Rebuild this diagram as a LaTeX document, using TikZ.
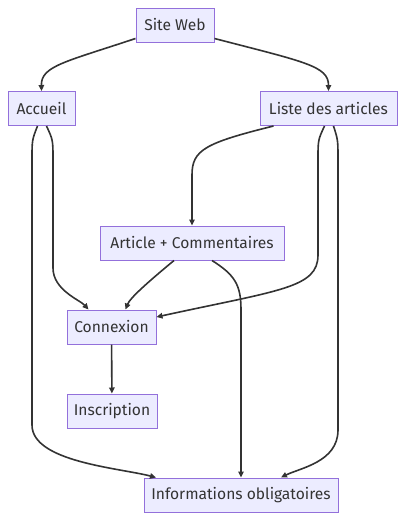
\documentclass[tikz,border=0pt]{standalone}
\usepackage{fontspec}
\setmainfont{Fira Sans}
\usetikzlibrary{arrows.meta}
\definecolor{mmfill}{HTML}{ECECFF}
\definecolor{mmborder}{HTML}{9370DB}
\definecolor{mmline}{HTML}{333333}
\begin{document}
\begin{tikzpicture}[x=1pt, y=-1pt,
  box/.style={draw=mmborder, fill=mmfill, line width=1pt, minimum height=34pt, inner sep=0pt, text=mmline, font=\fontsize{15.6}{18}\selectfont},
  link/.style={draw=mmline, line width=1.6pt, -{Triangle[length=6pt,width=5.5pt]}}]
\useasboundingbox (0,0) rectangle (405,520);
\node[box, minimum width=78pt] (site) at (175,25) {Site Web};
\node[box, minimum width=67pt] (accueil) at (41.5,108.5) {Accueil};
\node[box, minimum width=137pt] (liste) at (328.5,108.5) {Liste des articles};
\node[box, minimum width=184pt] (article) at (192,243) {Article + Commentaires};
\node[box, minimum width=89pt] (connexion) at (111.5,327) {Connexion};
\node[box, minimum width=90pt] (inscription) at (112,411) {Inscription};
\node[box, minimum width=194pt] (info) at (241,495) {Informations obligatoires};
\draw[link] ([yshift=4pt]site.south west) .. controls (65,62) and (41,66) .. (accueil.north);
\draw[link] ([yshift=4pt]site.south east) .. controls (305,62) and (328.5,66) .. (liste.north);
\draw[link] ([xshift=5pt]accueil.south) .. controls (53,140) .. (53,160) -- (53,268) .. controls (53,290) and (80,300) .. ([xshift=-23pt]connexion.north);
\draw[link] ([xshift=-4pt]accueil.south) .. controls (32,140) .. (32,160) -- (32,425) .. controls (32,462) and (120,468) .. ([xshift=-85pt]info.north);
\draw[link] ([xshift=-55pt]liste.south) .. controls (205,143) and (192,150) .. (192,175) -- (article.north);
\draw[link] ([xshift=-4pt]liste.south) .. controls (318,140) .. (318,160) -- (318,255) .. controls (318,288) and (280,290) .. ([yshift=10pt]connexion.east);
\draw[link] ([xshift=5pt]liste.south) .. controls (338,140) .. (338,160) -- (338,430) .. controls (338,462) and (300,468) .. ([xshift=40pt]info.north);
\draw[link] ([xshift=-18pt]article.south) .. controls (148,282) and (130,298) .. ([xshift=14pt]connexion.north);
\draw[link] ([xshift=20pt]article.south) .. controls (235,275) and (241,285) .. (241,310) -- (info.north);
\draw[link] (connexion) -- (inscription);
\end{tikzpicture}
\end{document}
